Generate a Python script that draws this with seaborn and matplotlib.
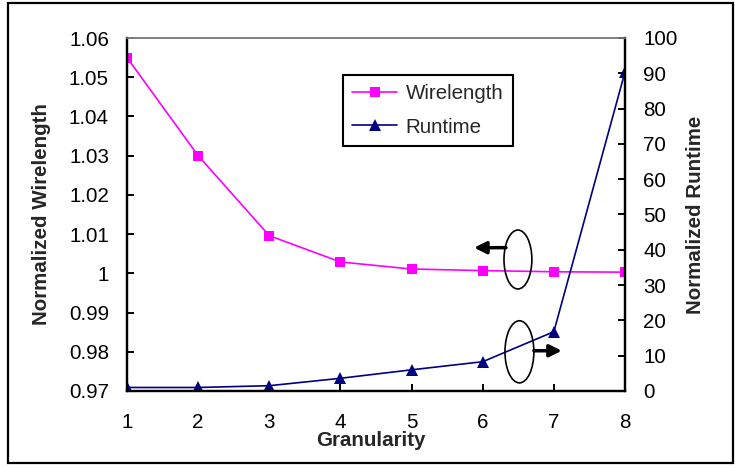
import matplotlib
matplotlib.use("Agg")
import matplotlib.pyplot as plt
import seaborn as sns
import pandas as pd
from matplotlib.patches import Ellipse, Rectangle

granularity = [1, 2, 3, 4, 5, 6, 7, 8]
wirelength = [1.055, 1.030, 1.0096, 1.0029, 1.0011, 1.0007, 1.0004, 1.0003]
runtime = [1.0, 1.0, 1.5, 3.6, 6.0, 8.3, 16.8, 90.4]
x_ticks = [1, 2, 3, 4, 5, 6, 7, 8]
wl_ticks = [0.97, 0.98, 0.99, 1.0, 1.01, 1.02, 1.03, 1.04, 1.05, 1.06]
wl_tick_labels = ["0.97", "0.98", "0.99", "1", "1.01", "1.02", "1.03", "1.04", "1.05", "1.06"]
rt_ticks = [0, 10, 20, 30, 40, 50, 60, 70, 80, 90, 100]

sns.set_theme(style="white")
plt.rcParams['font.family'] = ['Liberation Sans', 'DejaVu Sans']
FS = 14.8

df = pd.DataFrame({"Granularity": granularity, "Wirelength": wirelength, "Runtime": runtime})

fig = plt.figure(figsize=(7.35, 4.68), dpi=100)
ax = fig.add_axes([127/735, 1-391/468, (625-127)/735, (391-38)/468])
ax2 = ax.twinx()

sns.lineplot(data=df, x="Granularity", y="Wirelength", ax=ax, color="#FF00FF",
             marker="s", markersize=7.5, markeredgewidth=0, linewidth=1.2, label="Wirelength", legend=False)
sns.lineplot(data=df, x="Granularity", y="Runtime", ax=ax2, color="#000080",
             marker="^", markersize=9, markeredgewidth=0, linewidth=1.2, label="Runtime", legend=False)

ax.set_xlim(1, 8)
ax.set_ylim(0.97, 1.06)
ax2.set_ylim(0, 100)
ax.set_xticks(x_ticks)
ax.set_xticklabels([str(v) for v in x_ticks])
ax.set_yticks(wl_ticks)
ax.set_yticklabels(wl_tick_labels)
ax2.set_yticks(rt_ticks)
ax2.set_yticklabels([str(v) for v in rt_ticks])

for a in (ax, ax2):
    for s in a.spines.values():
        s.set_linewidth(1.6)
        s.set_color("black")
    a.spines['top'].set_color("#808080")
    a.spines['top'].set_linewidth(1.2)
ax.tick_params(axis='x', direction='in', length=5, width=1.4, labelsize=FS, pad=16, colors='black', bottom=True)
ax.tick_params(axis='y', direction='in', length=5, width=1.4, labelsize=FS, pad=13, colors='black', left=True)
ax2.tick_params(axis='y', direction='in', length=5, width=1.4, labelsize=FS, pad=13, colors='black', right=True)

ax.set_xlabel("Granularity", fontsize=FS, fontweight='bold', labelpad=0)
ax.set_ylabel("Normalized Wirelength", fontsize=FS, fontweight='bold')
ax2.set_ylabel("Normalized Runtime", fontsize=FS, fontweight='bold')
ax.xaxis.set_label_coords((371 - 127) / 498, -(431 - 391) / 353)
ax.yaxis.set_label_coords(-(127 - 51) / 498, 0.5)
ax2.yaxis.set_label_coords((686 - 127) / 498, 0.5)

h1, l1 = ax.get_legend_handles_labels()
h2, l2 = ax2.get_legend_handles_labels()
leg = fig.legend(h1 + h2, l1 + l2, loc="upper left", bbox_to_anchor=(343/735, 1-75/468),
                 bbox_transform=fig.transFigure, fontsize=FS, frameon=True, fancybox=False,
                 edgecolor="black", handlelength=2.2, labelspacing=0.7, borderpad=0.45,
                 handletextpad=0.4, borderaxespad=0)
leg.get_frame().set_linewidth(1.5)
leg.get_frame().set_facecolor("white")
leg.get_frame().set_alpha(1)

# annotation ellipses and arrows (axes fraction)
ax2.add_patch(Ellipse((0.785, 0.3725), 0.056, 0.167, transform=ax2.transAxes,
                      fill=False, edgecolor="black", linewidth=1.2, zorder=5))
ax2.add_patch(Ellipse((0.788, 0.111), 0.058, 0.176, transform=ax2.transAxes,
                      fill=False, edgecolor="black", linewidth=1.2, zorder=5))
ax2.annotate("", xy=(0.697, 0.406), xytext=(0.761, 0.406), xycoords=ax2.transAxes,
             textcoords=ax2.transAxes,
             arrowprops=dict(arrowstyle="-|>", lw=2.5, color="black", mutation_scale=18, shrinkA=0, shrinkB=0))
ax2.annotate("", xy=(0.873, 0.114), xytext=(0.817, 0.114), xycoords=ax2.transAxes,
             textcoords=ax2.transAxes,
             arrowprops=dict(arrowstyle="-|>", lw=2.5, color="black", mutation_scale=18, shrinkA=0, shrinkB=0))

# outer border
fig.patches.append(Rectangle((8/735, 1-463/468), (733-8)/735, (463-3)/468, transform=fig.transFigure,
                             fill=False, edgecolor="black", linewidth=1.6))

fig.savefig("out.png", dpi=100)
